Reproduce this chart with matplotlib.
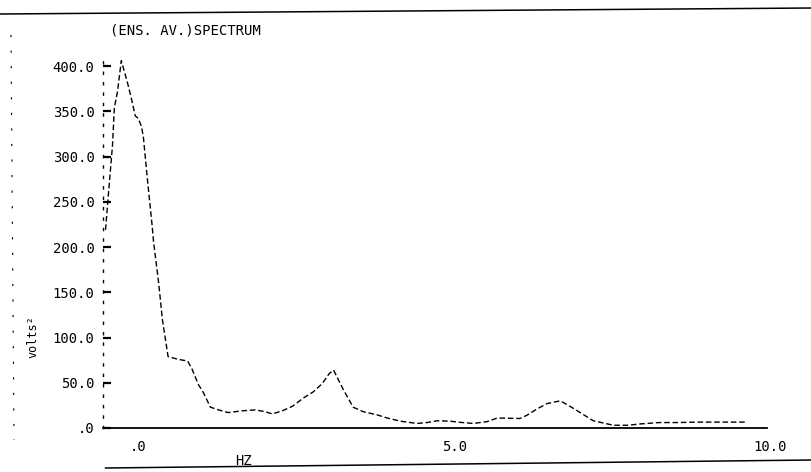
import numpy as np
import matplotlib
matplotlib.use("Agg")
import matplotlib.pyplot as plt
from matplotlib.lines import Line2D

# =====================================================================
# DATA
# =====================================================================
freq_hz = [-0.52, -0.47, -0.41, -0.38, -0.33, -0.27, -0.17, -0.11, -0.05, 0.00,
           0.05, 0.08, 0.13, 0.22, 0.24, 0.32, 0.38, 0.47, 0.62, 0.78,
           0.85, 0.95, 1.03, 1.14, 1.27, 1.42, 1.65, 1.85, 2.01, 2.12,
           2.28, 2.44, 2.61, 2.77, 2.91, 3.02, 3.09, 3.24, 3.40, 3.56,
           3.78, 3.94, 4.15, 4.41, 4.57, 4.73, 4.94, 5.05, 5.30, 5.52,
           5.68, 6.04, 6.15, 6.31, 6.47, 6.68, 6.88, 7.04, 7.20, 7.36,
           7.52, 7.75, 7.95, 8.25, 8.55, 8.85, 9.20, 9.60]
power = [219, 262, 312, 354, 372, 406, 381, 364, 345, 342,
         333, 321, 284, 222, 206, 161, 120, 79, 76, 74,
         65, 48, 39, 23, 20, 17, 19, 20, 18, 15.5,
         19, 24, 33, 40, 49, 60, 64, 43, 23, 18,
         14.5, 11, 7.5, 5, 6, 8, 7.5, 6.5, 5, 7,
         11, 10.5, 14, 21, 27, 30, 22, 15, 8, 5.5,
         3, 3, 4.5, 6, 6, 6.5, 6.5, 6.5]

y_ticks = [0, 50, 100, 150, 200, 250, 300, 350, 400]
y_tick_labels = [".0", "50.0", "100.0", "150.0", "200.0", "250.0", "300.0", "350.0", "400.0"]
x_ticks = [0, 5, 10]
x_tick_labels = [".0", "5.0", "10.0"]

# =====================================================================
# FIGURE
# =====================================================================
W, H = 812, 472
fig = plt.figure(figsize=(W / 100, H / 100), dpi=100)
fig.patch.set_facecolor("white")
mono = "DejaVu Sans Mono"

ax = fig.add_axes([103 / W, 1 - 432.5 / H, 686 / W, 384.5 / H])
ax.set_xlim(-0.56, 10.3)
ax.set_ylim(-5, 420)

ax.plot(freq_hz, power, color="black", lw=1.0, dashes=(4, 2))

for side in ["top", "right"]:
    ax.spines[side].set_visible(False)
ax.spines["left"].set_linestyle((0, (1.5, 6)))
ax.spines["left"].set_linewidth(1.0)
ax.spines["left"].set_bounds(0, 410)
ax.spines["bottom"].set_position(("data", 0))
ax.spines["bottom"].set_bounds(-0.56, 9.95)
ax.spines["bottom"].set_linewidth(1.3)

ax.set_yticks(y_ticks)
ax.set_yticklabels(y_tick_labels, family=mono, fontsize=10)
ax.tick_params(axis="y", direction="in", length=6, width=1.6, pad=6)
ax.set_xticks(x_ticks)
ax.set_xticklabels(x_tick_labels, family=mono, fontsize=10)
ax.tick_params(axis="x", length=0, pad=9)

ax.set_ylabel("volts²", family=mono, fontsize=8.5, labelpad=2)
ax.yaxis.set_label_coords(-0.092, 0.25)

fig.text(110 / W, 1 - 30 / H, "(ENS. AV.)SPECTRUM", family=mono, fontsize=10,
         va="center", ha="left")
fig.text(244 / W, 1 - 461 / H, "HZ", family=mono, fontsize=10, va="center", ha="center")

# scan borders
fig.add_artist(Line2D([0, 1], [1 - 14 / H, 1 - 8 / H], transform=fig.transFigure,
                      color="black", lw=1.1))
fig.add_artist(Line2D([0.13, 1], [1 - 468 / H, 1 - 460 / H], transform=fig.transFigure,
                      color="black", lw=1.1))
fig.add_artist(Line2D([11 / W, 14 / W], [1 - 35 / H, 1 - 440 / H], transform=fig.transFigure,
                      color="black", lw=0.8, linestyle=(0, (2, 12))))

fig.savefig("out.png", dpi=100, facecolor="white")
